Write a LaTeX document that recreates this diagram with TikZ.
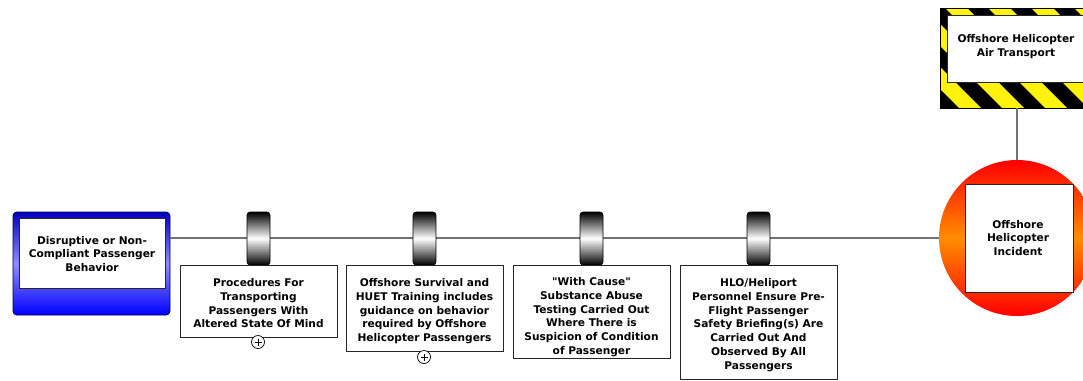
\documentclass[tikz,border=0pt]{standalone}
\usepackage{fontspec}
\setmainfont{DejaVu Sans}[Ligatures=TeXOff]
\begin{document}
\begin{tikzpicture}[x=1pt,y=-1pt,
  txt/.style={font=\bfseries\fontsize{10.6}{13.9}\selectfont, align=center, text=black, inner sep=0pt},
  bbox/.style={draw=black!85, line width=0.9pt, fill=white, inner sep=0pt},
  conn/.style={draw=black!55, line width=1.4pt},
  barrier/.style={draw=black, line width=0.6pt, rounded corners=3pt, top color=black, bottom color=black, middle color=white, minimum width=23pt, minimum height=53pt, inner sep=0pt},
  plus/.style={draw=black, line width=0.7pt, circle, minimum size=13pt, inner sep=0pt, fill=white},
]
\useasboundingbox (0,0) rectangle (1083,380);

% top event
\node[circle, minimum size=156pt, inner sep=0pt, top color=red, bottom color=red, middle color=orange!90!yellow] (top) at (1017,238) {};
\node[bbox, minimum size=108pt] (topin) at (1019,238.5) {};
\node[txt] (toptxt) at (1018,238) {Offshore\\Helicopter\\Incident};

% hazard
\node[minimum width=150pt, minimum height=100pt, inner sep=0pt, anchor=north west] (hazard) at (940,8) {};
\begin{scope}
  \clip (940,8) rectangle (1090,108);
  \fill[black] (940,8) rectangle (1090,108);
  \foreach \i in {-4,...,5} {
    \fill[yellow!95!white] (945+43*\i,8) -- (967+43*\i,8) -- (1067+43*\i,108) -- (1045+43*\i,108) -- cycle;
  }
\end{scope}
\draw[black, line width=1pt] (940,8) rectangle (1090,108);
\node[bbox, minimum width=143pt, minimum height=67pt, anchor=north west] (hazin) at (947,15) {};
\node[txt] (haztxt) at (1016,47) {Offshore Helicopter\\Air Transport};
\draw[conn] (hazard.south -| top.north) -- (top.north);

% threat
\node[draw=blue!30!black, line width=0.9pt, rounded corners=4pt, minimum width=157pt, minimum height=103pt, inner sep=0pt,
      top color=blue!75!black, bottom color=blue, middle color=blue!45] (threat) at (91.5,263.5) {};
\node[bbox, minimum width=146pt, minimum height=70pt] (threatin) at (92,253) {};
\node[txt] (threattxt) at (92,254) {Disruptive or Non-\\Compliant Passenger\\Behavior};

% main line
\draw[conn] (threat.east |- top.west) -- (top.west);

% barriers
\foreach \n/\x/\h in {1/258.5/72, 2/424.5/86, 3/591.5/93, 4/758.5/114} {
  \node[barrier] (b\n) at (\x,238.5) {};
  \node[bbox, minimum width=157pt, minimum height=\h pt, anchor=north] (c\n) at (\x,265) {};
}
\node[txt, anchor=north] (c1t) at (c1.north) [yshift=-13pt] {Procedures For\\Transporting\\Passengers With\\Altered State Of Mind};
\node[txt, anchor=north] (c2t) at (c2.north) [yshift=-13pt] {Offshore Survival and\\HUET Training includes\\guidance on behavior\\required by Offshore\\Helicopter Passengers};
\node[txt, anchor=north] (c3t) at (c3.north) [yshift=-12pt] {"With Cause"\\Substance Abuse\\Testing Carried Out\\Where There is\\Suspicion of Condition\\of Passenger};
\node[txt, anchor=north] (c4t) at (c4.north) [yshift=-13pt] {HLO/Heliport\\Personnel Ensure Pre-\\Flight Passenger\\Safety Briefing(s) Are\\Carried Out And\\Observed By All\\Passengers};

% expand markers
\node[plus] (p1) at (258,342) {};
\node[plus] (p2) at (424,357) {};
\foreach \p in {p1,p2} {
  \draw[line width=0.7pt] ([xshift=-3.5pt]\p.center) -- ([xshift=3.5pt]\p.center);
  \draw[line width=0.7pt] ([yshift=-3.5pt]\p.center) -- ([yshift=3.5pt]\p.center);
}
\end{tikzpicture}
\end{document}
